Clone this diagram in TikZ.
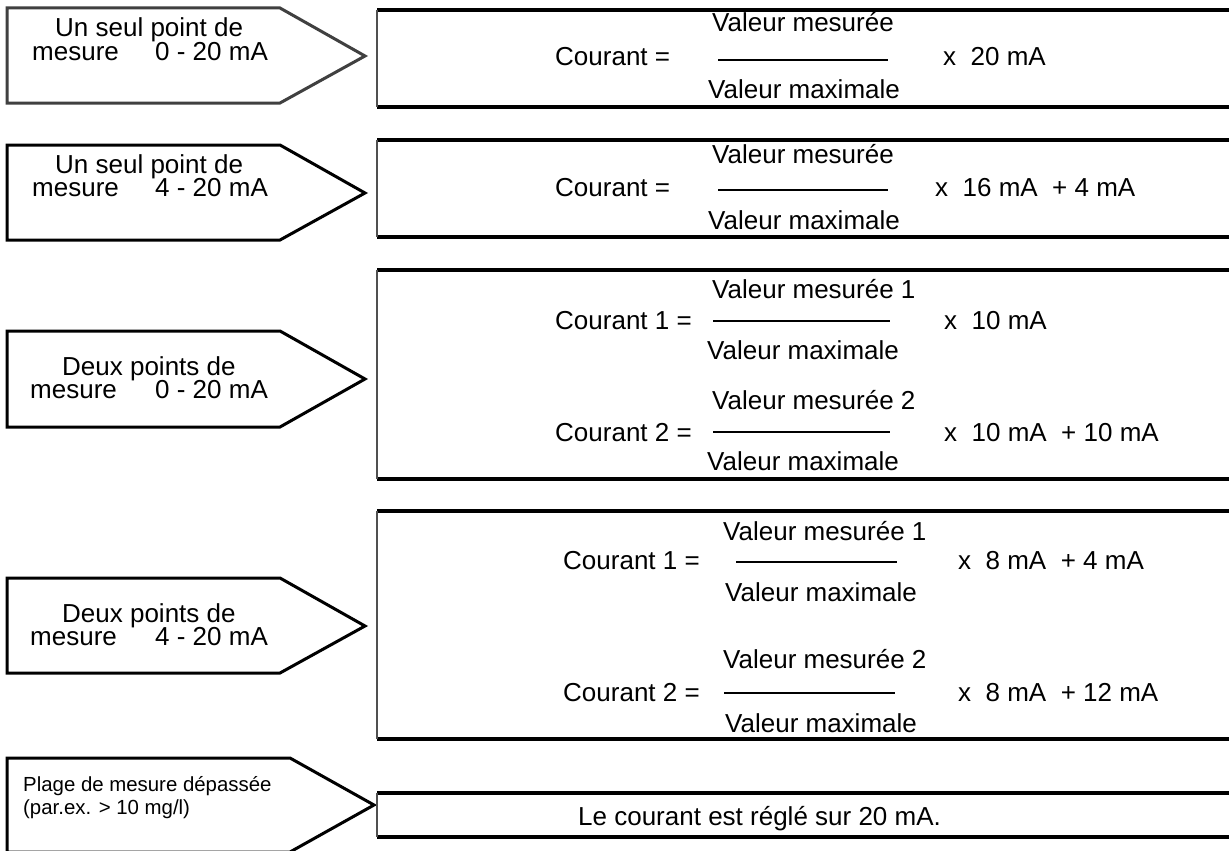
\documentclass[tikz,border=0pt]{standalone}
\usepackage{fontspec}
\setmainfont{Liberation Sans}
\definecolor{signgray}{RGB}{64,64,64}
\definecolor{sidegray}{RGB}{80,80,80}
\tikzset{
  sign/.style={line width=3pt, line join=miter},
  boxrule/.style={line width=3.4pt},
  boxside/.style={line width=1.5pt, sidegray},
  fracrule/.style={line width=1.8pt},
  txt/.style={anchor=base west, inner sep=0pt, font=\fontsize{26}{30}\selectfont},
  smalltxt/.style={anchor=base west, inner sep=0pt, font=\fontsize{20.4}{24}\selectfont}
}
\begin{document}
\begin{tikzpicture}[x=1pt, y=-1pt]
\useasboundingbox (0,0) rectangle (1229,851);
\clip (0,0) rectangle (1229,851);
\fill[white] (0,0) rectangle (1229,851);

% left signs
\draw[sign, signgray] (7,8) -- (280,8) -- (365,56) -- (280,103) -- (7,103) -- cycle;
\draw[sign] (7,145) -- (280,145) -- (365,193) -- (280,240) -- (7,240) -- cycle;
\draw[sign] (7,331) -- (280,331) -- (365,379) -- (280,427) -- (7,427) -- cycle;
\draw[sign] (7,578) -- (280,578) -- (365,626) -- (280,673) -- (7,673) -- cycle;
\draw[sign] (7,758) -- (290,758) -- (374,805) -- (290,852) -- (7,852) -- cycle;

\node[txt] (s1a) at (55,37) {Un seul point de};
\node[txt] (s1b) at (32,60) {mesure};
\node[txt] (s1c) at (155,60) {0 - 20 mA};
\node[txt] (s2a) at (55,173) {Un seul point de};
\node[txt] (s2b) at (32,196) {mesure};
\node[txt] (s2c) at (155,196) {4 - 20 mA};
\node[txt] (s3a) at (62,375) {Deux points de};
\node[txt] (s3b) at (30,398) {mesure};
\node[txt] (s3c) at (155,398) {0 - 20 mA};
\node[txt] (s4a) at (62,622) {Deux points de};
\node[txt] (s4b) at (30,645) {mesure};
\node[txt] (s4c) at (155,645) {4 - 20 mA};
\node[smalltxt] (s5a) at (23,791) {Plage de mesure dépassée};
\node[smalltxt] (s5b) at (23,814) {(par.ex. > 10 mg/l)};

% right boxes
\draw[boxrule] (377,10) -- (1240,10);
\draw[boxrule] (377,107) -- (1240,107);
\draw[boxside] (377,10) -- (377,107);
\draw[boxrule] (377,140) -- (1240,140);
\draw[boxrule] (377,237) -- (1240,237);
\draw[boxside] (377,140) -- (377,237);
\draw[boxrule] (377,270) -- (1240,270);
\draw[boxrule] (377,479) -- (1240,479);
\draw[boxside] (377,270) -- (377,479);
\draw[boxrule] (377,511) -- (1240,511);
\draw[boxrule] (377,739) -- (1240,739);
\draw[boxside] (377,511) -- (377,739);
\draw[boxrule] (377,793) -- (1240,793);
\draw[boxrule] (377,837) -- (1240,837);
\draw[boxside] (377,793) -- (377,837);

% formulas
\node[txt] (c1) at (555,66) {Courant =};
\node[txt] (n1) at (712,32) {Valeur mesurée};
\node[txt] (d1) at (708,98) {Valeur maximale};
\draw[fracrule] (718,60) -- (888,60);
\node[txt] (t1) at (943,66) {x~~20 mA};

\node[txt] (c2) at (555,196) {Courant =};
\node[txt] (n2) at (712,163) {Valeur mesurée};
\node[txt] (d2) at (708,229) {Valeur maximale};
\draw[fracrule] (718,190) -- (888,190);
\node[txt] (t2) at (935,196) {x~~16 mA~~+ 4 mA};

\node[txt] (c3a) at (555,329) {Courant 1 =};
\node[txt] (n3a) at (712,298) {Valeur mesurée 1};
\node[txt] (d3a) at (707,359) {Valeur maximale};
\draw[fracrule] (713,321) -- (890,321);
\node[txt] (t3a) at (944,329) {x~~10 mA};
\node[txt] (c3b) at (555,441) {Courant 2 =};
\node[txt] (n3b) at (712,409) {Valeur mesurée 2};
\node[txt] (d3b) at (707,470) {Valeur maximale};
\draw[fracrule] (713,432) -- (890,432);
\node[txt] (t3b) at (944,441) {x~~10 mA~~+ 10 mA};

\node[txt] (c4a) at (563,569) {Courant 1 =};
\node[txt] (n4a) at (723,540) {Valeur mesurée 1};
\node[txt] (d4a) at (725,601) {Valeur maximale};
\draw[fracrule] (736,562) -- (897,562);
\node[txt] (t4a) at (958,569) {x~~8 mA~~+ 4 mA};
\node[txt] (c4b) at (563,701) {Courant 2 =};
\node[txt] (n4b) at (723,668) {Valeur mesurée 2};
\node[txt] (d4b) at (725,732) {Valeur maximale};
\draw[fracrule] (724,693) -- (895,693);
\node[txt] (t4b) at (958,701) {x~~8 mA~~+ 12 mA};

\node[txt] (r5) at (578,825) {Le courant est réglé sur 20 mA.};
\end{tikzpicture}
\end{document}
